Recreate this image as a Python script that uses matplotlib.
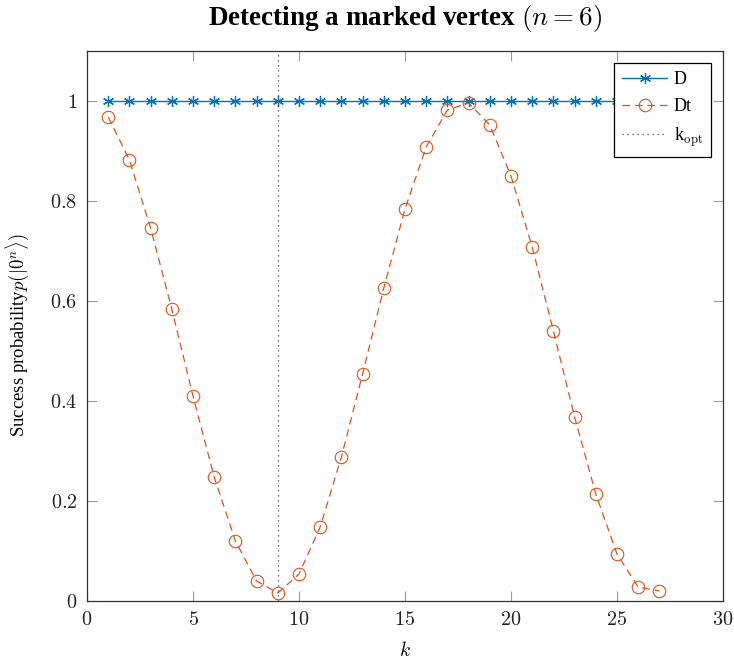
import matplotlib
matplotlib.use("Agg")
import matplotlib.pyplot as plt
from matplotlib.ticker import FuncFormatter

plt.rcParams["font.family"] = ["Liberation Serif", "DejaVu Serif"]
plt.rcParams["mathtext.fontset"] = "cm"

# data
k_vals = list(range(1, 28))
d_vals = [1.0] * 27
dt_vals = [0.968, 0.882, 0.746, 0.584, 0.41, 0.248, 0.12, 0.04, 0.016,
           0.054, 0.148, 0.288, 0.454, 0.626, 0.784, 0.908, 0.982, 0.996,
           0.952, 0.85, 0.708, 0.54, 0.368, 0.214, 0.094, 0.028, 0.02]
k_opt = 9
x_ticks = [0, 5, 10, 15, 20, 25, 30]
y_ticks = [0, 0.2, 0.4, 0.6, 0.8, 1]

blue = "#0072BD"
orange = "#D95319"

fig = plt.figure(figsize=(7.34, 6.59), dpi=100)
ax = fig.add_axes([87 / 734, 58 / 659, 636 / 734, 550 / 659])

ax.plot(k_vals, d_vals, color=blue, marker=(6, 2, 0), markersize=8, linewidth=1.0,
        markeredgecolor=blue, markeredgewidth=0.9, label="D")
ax.plot(k_vals, dt_vals, color=orange, linestyle=(0, (6, 4)), linewidth=0.9,
        marker="o", markersize=9, markerfacecolor="none", markeredgecolor=orange,
        markeredgewidth=0.8, label="Dt")
ax.axvline(k_opt, color="#444444", linestyle=(0, (1, 3)), linewidth=0.9,
           label=r"k$_{\rm opt}$")

ax.set_xlim(0, 30)
ax.set_ylim(0, 1.1)
ax.set_xticks(x_ticks)
ax.set_yticks(y_ticks)
fmt = FuncFormatter(lambda v, p: "$%g$" % v)
ax.xaxis.set_major_formatter(fmt)
ax.yaxis.set_major_formatter(fmt)
ax.tick_params(direction="in", length=7, width=0.8, color="#999999",
               top=True, right=True, labelsize=14.5, pad=7, labelcolor="#222222")
for s in ax.spines.values():
    s.set_linewidth(0.9)
    s.set_color("#333333")

ax.set_xlabel("$k$", fontsize=14, labelpad=8)
ax.set_ylabel(r"Success probability$p(|0^n\rangle)$", fontsize=13.5)
ax.yaxis.set_label_coords(-0.088, 0.483)
ax.set_title(r"Detecting a marked vertex $(n=6)$", fontsize=19.5, fontweight="bold", pad=19)

leg = ax.legend(loc="upper right", fontsize=13, fancybox=False, framealpha=1,
                edgecolor="black", handlelength=2.5, borderpad=0.45,
                labelspacing=0.55, handletextpad=0.35, borderaxespad=0.66)
leg.get_frame().set_linewidth(0.9)

fig.savefig("out.png", dpi=100)
